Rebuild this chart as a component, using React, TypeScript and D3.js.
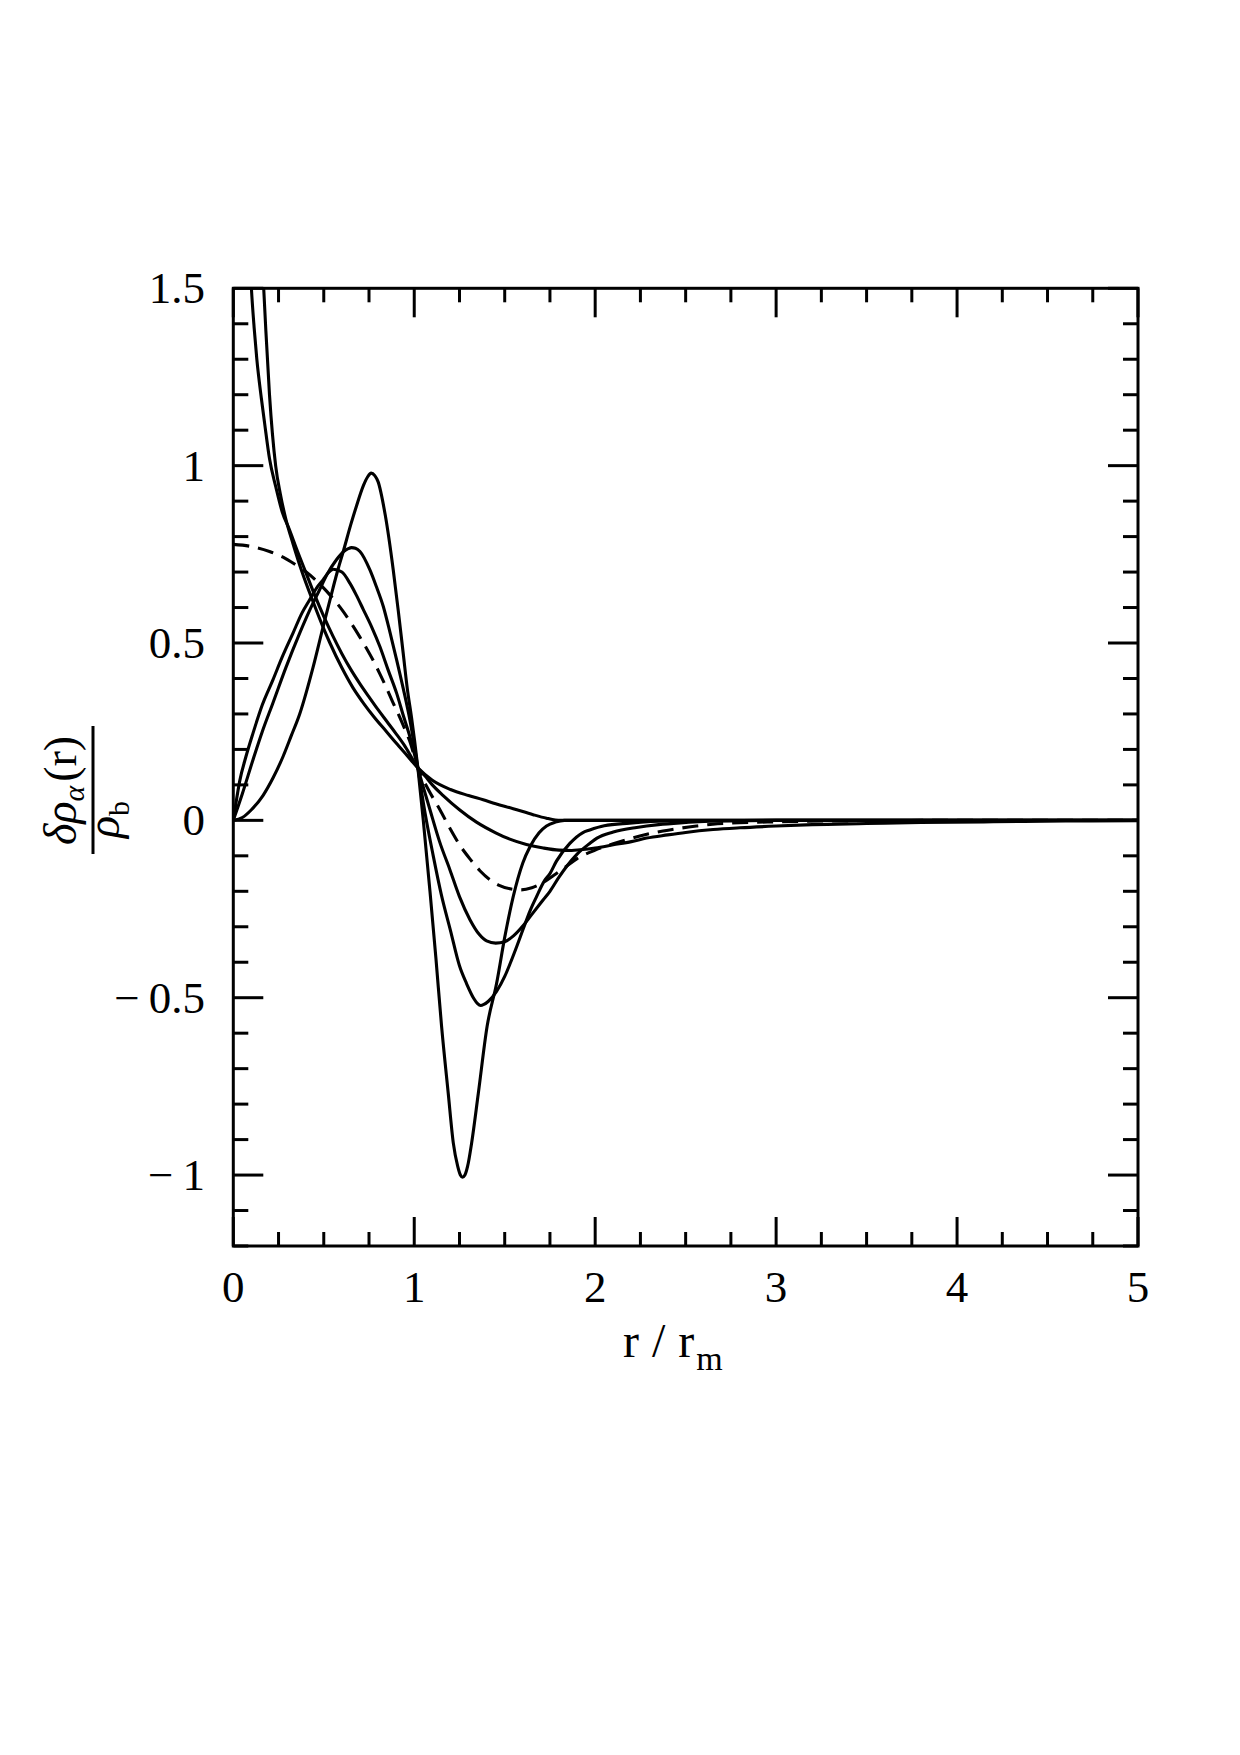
import * as d3 from 'd3';

// tick values and labels
const xMajor = [0, 1, 2, 3, 4, 5];
const xLabels = ['0', '1', '2', '3', '4', '5'];
const yMajor = [-1, -0.5, 0, 0.5, 1, 1.5];
const yLabels = ['−\u20091', '−\u20090.5', '0', '0.5', '1', '1.5'];

// curves, [r/rm, value]
const profileA: [number, number][] = [
  [0.155, 1.65], [0.168, 1.5], [0.18, 1.38], [0.2, 1.2], [0.234, 1.0], [0.26, 0.92], [0.29, 0.85],
  [0.33, 0.78], [0.38, 0.7], [0.442, 0.615], [0.5, 0.54], [0.534, 0.5], [0.6, 0.43], [0.66, 0.375],
  [0.72, 0.33], [0.78, 0.29], [0.847, 0.25], [0.9, 0.218], [0.96, 0.183], [1.02, 0.148], [1.1, 0.113],
  [1.2, 0.087], [1.3, 0.07], [1.381, 0.058], [1.45, 0.047], [1.547, 0.033], [1.657, 0.016],
  [1.731, 0.006], [1.78, 0.001], [1.81, 0], [2.2, 0], [3, 0], [5, 0],
];

const profileB: [number, number][] = [
  [0.085, 1.66], [0.1, 1.5], [0.115, 1.39], [0.13, 1.3], [0.155, 1.19], [0.173, 1.12], [0.2, 1.02],
  [0.235, 0.94], [0.27, 0.87], [0.31, 0.82], [0.35, 0.765], [0.4, 0.7], [0.45, 0.635], [0.5, 0.575],
  [0.55, 0.52], [0.6, 0.47], [0.65, 0.425], [0.7, 0.385], [0.75, 0.348], [0.8, 0.312], [0.85, 0.278],
  [0.9, 0.244], [0.95, 0.208], [1.02, 0.148], [1.06, 0.125], [1.1, 0.1], [1.16, 0.07], [1.25, 0.03],
  [1.344, -0.005], [1.45, -0.035], [1.528, -0.053], [1.62, -0.068], [1.713, -0.078], [1.8, -0.084],
  [1.87, -0.085], [1.916, -0.083], [2.0, -0.078], [2.1, -0.069], [2.2, -0.06], [2.284, -0.05],
  [2.4, -0.041], [2.5, -0.034], [2.652, -0.026], [2.8, -0.021], [3.0, -0.016], [3.2, -0.012],
  [3.5, -0.009], [3.8, -0.006], [4.2, -0.004], [4.6, -0.002], [5.0, -0.001],
];

const profileDashed: [number, number][] = [
  [0, 0.778], [0.1, 0.772], [0.2, 0.758], [0.275, 0.742], [0.34, 0.722], [0.403, 0.7], [0.46, 0.675],
  [0.514, 0.647], [0.56, 0.62], [0.606, 0.59], [0.65, 0.557], [0.698, 0.518], [0.735, 0.486],
  [0.772, 0.452], [0.81, 0.413], [0.845, 0.375], [0.88, 0.335], [0.919, 0.292], [0.95, 0.255],
  [0.974, 0.225], [1.02, 0.148], [1.08, 0.085], [1.142, 0.03], [1.2, -0.025], [1.252, -0.07],
  [1.31, -0.11], [1.363, -0.142], [1.42, -0.168], [1.473, -0.184], [1.53, -0.193], [1.59, -0.196],
  [1.65, -0.19], [1.713, -0.175], [1.78, -0.152], [1.84, -0.13], [1.9, -0.108], [2.0, -0.084],
  [2.1, -0.066], [2.19, -0.052], [2.28, -0.04], [2.375, -0.03], [2.47, -0.022], [2.56, -0.016],
  [2.65, -0.011], [2.744, -0.008], [3.0, -0.004], [3.5, -0.001], [4, 0], [5, 0],
];

const profileD: [number, number][] = [
  [0, 0], [0.012, 0.04], [0.035, 0.11], [0.07, 0.18], [0.109, 0.246], [0.16, 0.325], [0.219, 0.396],
  [0.27, 0.46], [0.33, 0.528], [0.38, 0.585], [0.422, 0.622], [0.46, 0.655], [0.496, 0.678],
  [0.525, 0.698], [0.553, 0.708], [0.6, 0.7], [0.645, 0.668], [0.68, 0.635], [0.718, 0.595],
  [0.765, 0.545], [0.81, 0.49], [0.855, 0.425], [0.903, 0.358], [0.94, 0.295], [0.976, 0.236],
  [1.02, 0.148], [1.087, 0.03], [1.14, -0.06], [1.197, -0.139], [1.25, -0.215], [1.308, -0.28],
  [1.36, -0.322], [1.4, -0.34], [1.45, -0.346], [1.5, -0.342], [1.55, -0.325], [1.6, -0.298],
  [1.65, -0.265], [1.713, -0.224], [1.75, -0.2], [1.8, -0.16], [1.842, -0.13], [1.9, -0.095],
  [1.97, -0.065], [2.01, -0.05], [2.1, -0.033], [2.229, -0.02], [2.35, -0.012], [2.47, -0.007],
  [2.7, -0.002], [3, 0], [5, 0],
];

const profileE: [number, number][] = [
  [0, 0], [0.05, 0.075], [0.109, 0.171], [0.16, 0.25], [0.219, 0.331], [0.29, 0.43], [0.367, 0.528],
  [0.42, 0.59], [0.477, 0.65], [0.52, 0.695], [0.569, 0.734], [0.61, 0.758], [0.635, 0.766],
  [0.654, 0.769], [0.675, 0.767], [0.7, 0.758], [0.755, 0.706], [0.79, 0.66], [0.829, 0.603],
  [0.866, 0.53], [0.903, 0.452], [0.94, 0.37], [0.976, 0.283], [1.02, 0.148], [1.06, 0.02],
  [1.105, -0.1], [1.15, -0.21], [1.2, -0.31], [1.25, -0.41], [1.289, -0.46], [1.33, -0.503],
  [1.35, -0.517], [1.367, -0.522], [1.385, -0.519], [1.41, -0.51], [1.455, -0.482], [1.5, -0.44],
  [1.529, -0.405], [1.567, -0.355], [1.603, -0.305], [1.64, -0.255], [1.676, -0.215], [1.72, -0.17],
  [1.75, -0.15], [1.786, -0.115], [1.86, -0.065], [1.93, -0.035], [1.97, -0.027], [2.05, -0.015],
  [2.19, -0.008], [2.4, -0.002], [3, 0], [5, 0],
];

const profileF: [number, number][] = [
  [0, 0], [0.05, 0.008], [0.1, 0.03], [0.164, 0.07], [0.22, 0.12], [0.275, 0.18], [0.32, 0.238],
  [0.367, 0.3], [0.44, 0.43], [0.496, 0.545], [0.551, 0.655], [0.58, 0.71], [0.606, 0.755],
  [0.65, 0.835], [0.68, 0.885], [0.72, 0.945], [0.742, 0.968], [0.762, 0.979], [0.782, 0.972],
  [0.8, 0.955], [0.84, 0.86], [0.884, 0.706], [0.912, 0.59], [0.939, 0.471], [0.962, 0.37],
  [0.985, 0.29], [1.02, 0.148], [1.05, 0.0], [1.087, -0.2], [1.12, -0.39], [1.151, -0.58],
  [1.188, -0.77], [1.216, -0.91], [1.24, -0.975], [1.255, -1.0], [1.267, -1.006], [1.28, -1.0],
  [1.295, -0.975], [1.317, -0.91], [1.354, -0.77], [1.403, -0.58], [1.455, -0.46], [1.5, -0.33],
  [1.547, -0.215], [1.6, -0.12], [1.639, -0.075], [1.69, -0.035], [1.731, -0.016], [1.78, -0.005],
  [1.83, 0], [2.2, 0], [3, 0], [5, 0],
];

const solidProfiles = [profileA, profileB, profileD, profileE, profileF];

const font = "'Liberation Serif', 'DejaVu Serif', serif";

export default function App() {
  const width = 1240;
  const height = 1755;
  const left = 233.3;
  const right = 1138;
  const top = 288.3;
  const bottom = 1246;

  const x = d3.scaleLinear().domain([0, 5]).range([left, right]);
  const y = d3.scaleLinear().domain([-1.2, 1.5]).range([bottom, top]);

  const line = d3
    .line<[number, number]>()
    .x((d) => x(d[0]))
    .y((d) => y(d[1]))
    .curve(d3.curveMonotoneX);

  const xMinor = d3.range(0, 5.001, 0.25).filter((v) => Math.abs(v - Math.round(v)) > 1e-6);
  const yMinor = d3.range(-1.2, 1.5001, 0.1).filter((v) => Math.abs(v * 2 - Math.round(v * 2)) > 1e-6);

  const major = 29;
  const minor = 14;
  const tickStyle = { stroke: '#000', strokeWidth: 3 };

  return (
    <svg
      width={width}
      height={height}
      style={{ position: 'absolute', left: 0, top: 0, background: '#fff' }}
    >
      <rect width={width} height={height} fill="#fff" />
      <defs>
        <clipPath id="plot">
          <rect x={left} y={top} width={right - left} height={bottom - top} />
        </clipPath>
      </defs>

      {/* x ticks, bottom and top */}
      {xMajor.map((v) => (
        <g key={'xM' + v}>
          <line x1={x(v)} x2={x(v)} y1={bottom} y2={bottom - major} {...tickStyle} />
          <line x1={x(v)} x2={x(v)} y1={top} y2={top + major} {...tickStyle} />
        </g>
      ))}
      {xMinor.map((v) => (
        <g key={'xm' + v}>
          <line x1={x(v)} x2={x(v)} y1={bottom} y2={bottom - minor} {...tickStyle} />
          <line x1={x(v)} x2={x(v)} y1={top} y2={top + minor} {...tickStyle} />
        </g>
      ))}
      {/* y ticks, left and right */}
      {yMajor.map((v) => (
        <g key={'yM' + v}>
          <line x1={left} x2={left + major + 1} y1={y(v)} y2={y(v)} {...tickStyle} />
          <line x1={right} x2={right - major - 1} y1={y(v)} y2={y(v)} {...tickStyle} />
        </g>
      ))}
      {yMinor.map((v) => (
        <g key={'ym' + v.toFixed(2)}>
          <line x1={left} x2={left + minor + 1} y1={y(v)} y2={y(v)} {...tickStyle} />
          <line x1={right} x2={right - minor - 1} y1={y(v)} y2={y(v)} {...tickStyle} />
        </g>
      ))}

      {/* curves */}
      <g clipPath="url(#plot)" fill="none" stroke="#000" strokeWidth={3.1} strokeLinejoin="round">
        {solidProfiles.map((p, i) => (
          <path key={i} d={line(p) ?? ''} />
        ))}
        <path d={line(profileDashed) ?? ''} strokeDasharray="16,9" />
      </g>

      <rect
        x={left}
        y={top}
        width={right - left}
        height={bottom - top}
        fill="none"
        stroke="#000"
        strokeWidth={3}
      />

      {/* tick labels */}
      <g fontFamily={font} fontSize={45} fill="#000">
        {xMajor.map((v, i) => (
          <text key={'xl' + v} x={x(v)} y={1302} textAnchor="middle">
            {xLabels[i]}
          </text>
        ))}
        {yMajor.map((v, i) => (
          <text key={'yl' + v} x={205} y={y(v) + 15} textAnchor="end">
            {yLabels[i]}
          </text>
        ))}
      </g>

      {/* x title */}
      <text x={623} y={1357} fontFamily={font} fontSize={48} fill="#000">
        <tspan>r</tspan>
        <tspan dx={13}>/</tspan>
        <tspan dx={13}>r</tspan>
        <tspan fontSize={34} dy={13} dx={2}>m</tspan>
      </text>

      {/* y title, rotated fraction */}
      <g transform="translate(93, 790) rotate(-90)" fontFamily={font} fill="#000">
        <line x1={-64} x2={64} y1={0} y2={0} stroke="#000" strokeWidth={3} />
        <text x={-55} y={-17} fontSize={46}>
          <tspan fontStyle="italic">δρ</tspan>
          <tspan fontSize={30} dy={8} fontStyle="italic">α</tspan>
          <tspan dy={-8} dx={4}>(r)</tspan>
        </text>
        <text x={-48} y={26} fontSize={46}>
          <tspan fontStyle="italic">ρ</tspan>
          <tspan fontSize={30} dy={10}>b</tspan>
        </text>
      </g>
    </svg>
  );
}
